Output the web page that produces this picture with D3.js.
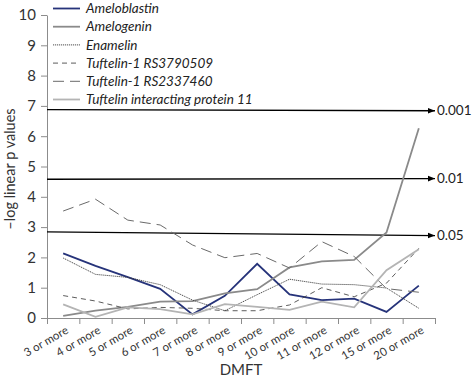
<!DOCTYPE html>
<html><head><meta charset="utf-8">
<script src="https://cdn.jsdelivr.net/npm/d3@7"></script>
<style>body{margin:0;background:#fff}svg{display:block}text{font-family:Lato,"Open Sans",sans-serif}</style>
</head><body><svg id="c" width="472" height="379"></svg>
<script>
const categories = ["3 or more","4 or more","5 or more","6 or more","7 or more","8 or more","9 or more","10 or more","11 or more","12 or more","15 or more","20 or more"];
const ameloblastin = [2.13,1.72,1.35,0.96,0.12,0.73,1.79,0.78,0.59,0.64,0.20,1.07];
const amelogenin   = [0.07,0.24,0.37,0.54,0.56,0.81,0.95,1.67,1.87,1.92,2.82,6.26];
const enamelin     = [1.98,1.44,1.34,1.10,0.59,0.24,0.77,1.28,1.12,1.10,0.99,0.32];
const rs3790509    = [0.74,0.56,0.30,0.35,0.32,0.24,0.24,0.43,1.00,0.70,1.15,2.30];
const rs2337460    = [3.53,3.92,3.23,3.07,2.41,1.99,2.13,1.65,2.52,2.03,0.97,0.85];
const tip11        = [0.45,0.04,0.35,0.29,0.12,0.46,0.37,0.27,0.54,0.35,1.58,2.27];
const seriesNames  = ["Ameloblastin","Amelogenin","Enamelin","Tuftelin-1 RS3790509","Tuftelin-1 RS2337460","Tuftelin interacting protein 11"];
const seriesValues = [ameloblastin, amelogenin, enamelin, rs3790509, rs2337460, tip11];
const yTicks = [0,1,2,3,4,5,6,7,8,9,10];
const thresholdLabels = ["0.001","0.01","0.05"];
const thresholdStart  = [6.88, 4.58, 2.84];
const thresholdEnd    = [6.84, 4.60, 2.72];

const styles = [
  {stroke:"#26337a", w:1.8, dash:null},
  {stroke:"#8a8a8a", w:1.8, dash:null},
  {stroke:"#3a3a3a", w:0.9, dash:"1.2,0.8"},
  {stroke:"#4a4a4a", w:0.9, dash:"5,4"},
  {stroke:"#6a6a6a", w:1.0, dash:"11,6"},
  {stroke:"#b4b4b4", w:1.8, dash:null}
];

const svg = d3.select("#c");
const L = 47, R = 435, T = 15, B = 318;
const x = d3.scaleBand().domain(categories).range([L, R]);
const xi = d3.scaleLinear().domain([0, categories.length]).range([L, R]);
const y = d3.scaleLinear().domain([0, 10]).range([B, T]);

svg.append("defs").append("marker").attr("id","arr").attr("viewBox","0 0 10 10")
  .attr("refX",10).attr("refY",5).attr("markerWidth",7).attr("markerHeight",7)
  .attr("markerUnits","userSpaceOnUse").attr("orient","auto")
  .append("path").attr("d","M0,1L10,5L0,9Z").attr("fill","#000");

// y axis
const ya = svg.append("g").attr("transform",`translate(${L},0)`)
  .call(d3.axisLeft(y).tickValues(yTicks).tickSize(6).tickPadding(5).tickSizeOuter(0));
ya.select(".domain").attr("stroke","#8c8c8c");
ya.selectAll(".tick line").attr("stroke","#8c8c8c");
ya.selectAll("text").attr("fill","#333").style("font-size","15px");

// x axis ticks at boundaries
const xa = svg.append("g").attr("transform",`translate(0,${B})`)
  .call(d3.axisBottom(xi).tickValues(d3.range(0, categories.length+1)).tickFormat("").tickSize(6).tickSizeOuter(0));
xa.select(".domain").attr("stroke","#8c8c8c");
xa.selectAll(".tick line").attr("stroke","#8c8c8c");
// x labels
const xl = svg.append("g").attr("transform",`translate(0,${B})`)
  .call(d3.axisBottom(x).tickSize(0).tickPadding(0));
xl.select(".domain").remove();
xl.selectAll("text").attr("fill","#333").style("font-size","11.5px")
  .attr("text-anchor","end").attr("y",0).attr("dy","0.35em")
  .attr("transform","translate(4,11) rotate(-30)");

// threshold lines
thresholdLabels.forEach((lab,i)=>{
  svg.append("line").attr("x1",L).attr("x2",R).attr("y1",y(thresholdStart[i])).attr("y2",y(thresholdEnd[i]))
    .attr("stroke","#000").attr("stroke-width",1.3).attr("marker-end","url(#arr)");
  svg.append("text").attr("x",R+2).attr("y",y(thresholdEnd[i])).attr("dy","0.35em")
    .style("font-size","13.5px").attr("fill","#222").text(lab);
});

// series
const line = d3.line().x((d,i)=>x(categories[i])+x.bandwidth()/2).y(d=>y(d));
seriesValues.forEach((vals,i)=>{
  const s = styles[i];
  svg.append("path").datum(vals).attr("d",line).attr("fill","none")
    .attr("stroke",s.stroke).attr("stroke-width",s.w).attr("stroke-dasharray",s.dash)
    .attr("stroke-linejoin","miter");
});

// legend
const lg = svg.append("g");
seriesNames.forEach((n,i)=>{
  const s = styles[i];
  const yy = 8.5 + i*18.2;
  lg.append("line").attr("x1",53).attr("x2",80).attr("y1",yy).attr("y2",yy)
    .attr("stroke",s.stroke).attr("stroke-width",s.w).attr("stroke-dasharray",s.dash);
  lg.append("text").attr("x",86).attr("y",yy).attr("dy","0.35em").style("font-size","13.5px")
    .style("font-style","italic").attr("fill","#222").text(n);
});

// axis titles
svg.append("text").attr("x",241).attr("y",375).attr("text-anchor","middle")
  .style("font-size","15px").attr("fill","#333").text("DMFT");
svg.append("text").attr("transform","translate(15,169) rotate(-90)").attr("text-anchor","middle")
  .style("font-size","14.5px").attr("fill","#333").text("\u2013log linear p values");
</script></body></html>
